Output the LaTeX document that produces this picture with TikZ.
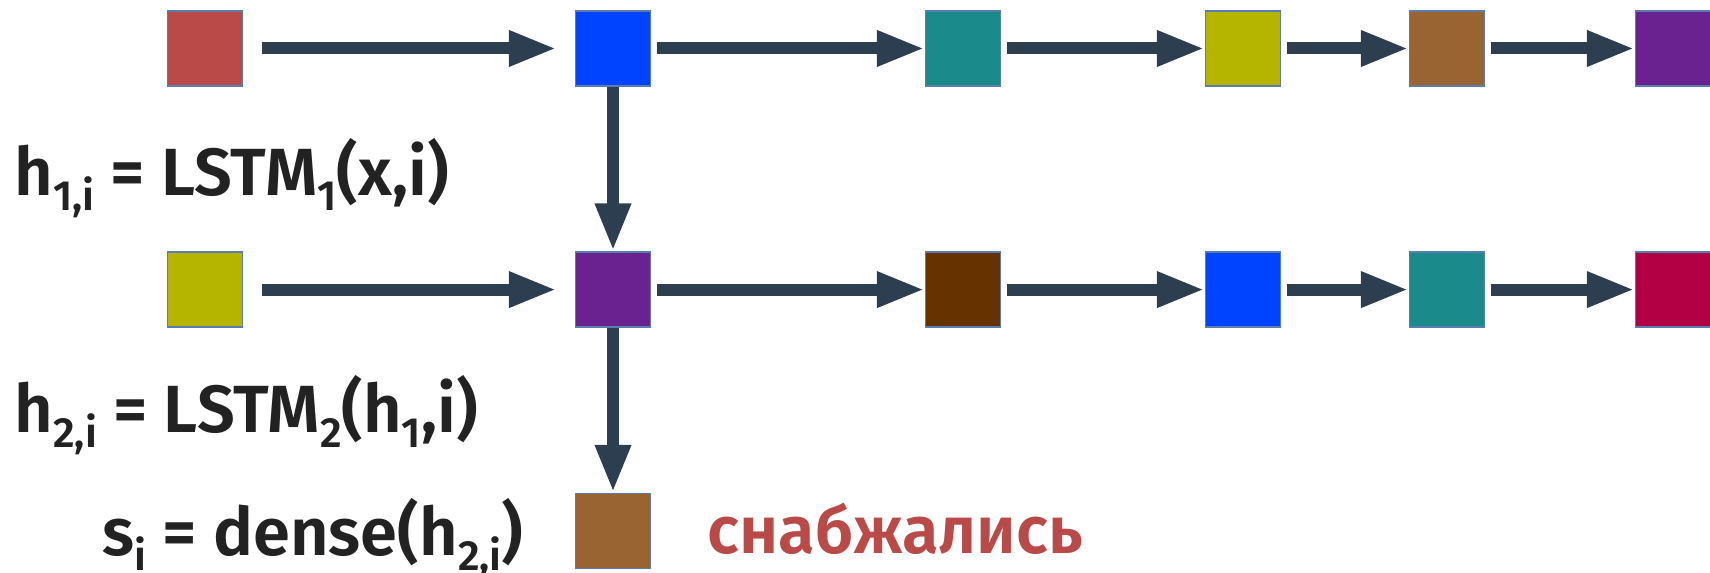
\documentclass[tikz,border=0pt]{standalone}
\usepackage{fontspec}
\setmainfont{Fira Sans}[BoldFont={Fira Sans SemiBold}]
\usepackage{tikz}
\usetikzlibrary{arrows.meta, positioning}

\definecolor{arrowgray}{HTML}{2C3E50}
\definecolor{edgeblue}{HTML}{5A7DB0}
\definecolor{inkgray}{HTML}{222222}
\definecolor{cred}{HTML}{B94A48}
\definecolor{cblue}{HTML}{0044FF}
\definecolor{cteal}{HTML}{1A8A8A}
\definecolor{colive}{HTML}{B5B500}
\definecolor{cbrown}{HTML}{9A6432}
\definecolor{cpurple}{HTML}{6A2290}
\definecolor{cdarkbrown}{HTML}{663300}
\definecolor{ccrimson}{HTML}{B30045}

% lowered index in text font
\newcommand{\idx}[1]{\raisebox{-0.22em}{\fontsize{12}{12}\selectfont #1}}

\tikzset{
  cell/.style={draw=edgeblue, line width=0.4pt, minimum size=0.75cm, inner sep=0pt, fill=#1},
  flow/.style={arrowgray, line width=0.12cm, -{Triangle[length=0.48cm, width=0.33cm]}},
  formula/.style={anchor=base west, inner sep=0pt, text=inkgray, font=\fontsize{19}{19}\selectfont\bfseries},
}

\begin{document}
\begin{tikzpicture}
      \useasboundingbox (0,0) rectangle (17.1,5.73);

      % First layer
      \node[cell=cred]    (a1) at (2.05,  5.245) {};
      \node[cell=cblue]   (a2) at (6.13,  5.245) {};
      \node[cell=cteal]   (a3) at (9.63,  5.245) {};
      \node[cell=colive]  (a4) at (12.43, 5.245) {};
      \node[cell=cbrown]  (a5) at (14.47, 5.245) {};
      \node[cell=cpurple] (a6) at (16.73, 5.245) {};

      % Second layer
      \node[cell=colive]     (b1) at (2.05,  2.834) {};
      \node[cell=cpurple]    (b2) at (6.13,  2.834) {};
      \node[cell=cdarkbrown] (b3) at (9.63,  2.834) {};
      \node[cell=cblue]      (b4) at (12.43, 2.834) {};
      \node[cell=cteal]      (b5) at (14.47, 2.834) {};
      \node[cell=ccrimson]   (b6) at (16.73, 2.834) {};

      % Output
      \node[cell=cbrown] (s) at (6.13, 0.42) {};

      % Arrows along the rows
      \draw[flow, shorten <=0.19cm, shorten >=0.18cm] (a1) -- (a2);
      \draw[flow, shorten <=0.06cm] (a2) -- (a3);
      \draw[flow, shorten <=0.06cm] (a3) -- (a4);
      \draw[flow, shorten <=0.06cm] (a4) -- (a5);
      \draw[flow, shorten <=0.06cm] (a5) -- (a6);
      \draw[flow, shorten <=0.19cm, shorten >=0.18cm] (b1) -- (b2);
      \draw[flow, shorten <=0.06cm] (b2) -- (b3);
      \draw[flow, shorten <=0.06cm] (b3) -- (b4);
      \draw[flow, shorten <=0.06cm] (b4) -- (b5);
      \draw[flow, shorten <=0.06cm] (b5) -- (b6);

      % Arrows down the layers
      \draw[flow] (a2) -- (b2);
      \draw[flow] (b2) -- (s);

      % Formulas
      \node[formula] (hone) at (0.14, 3.77) {h\idx{1,i} = LSTM\idx{1}(x,i)};
      \node[formula] (htwo) at (0.14, 1.40) {h\idx{2,i} = LSTM\idx{2}(h\idx{1},i)};
      \node[formula] (sout) at (1.02, 0.17) {s\idx{i} = dense(h\idx{2,i})};
      \node[formula, text=cred] (word) at (7.07, 0.19) {снабжались};
\end{tikzpicture}
\end{document}
